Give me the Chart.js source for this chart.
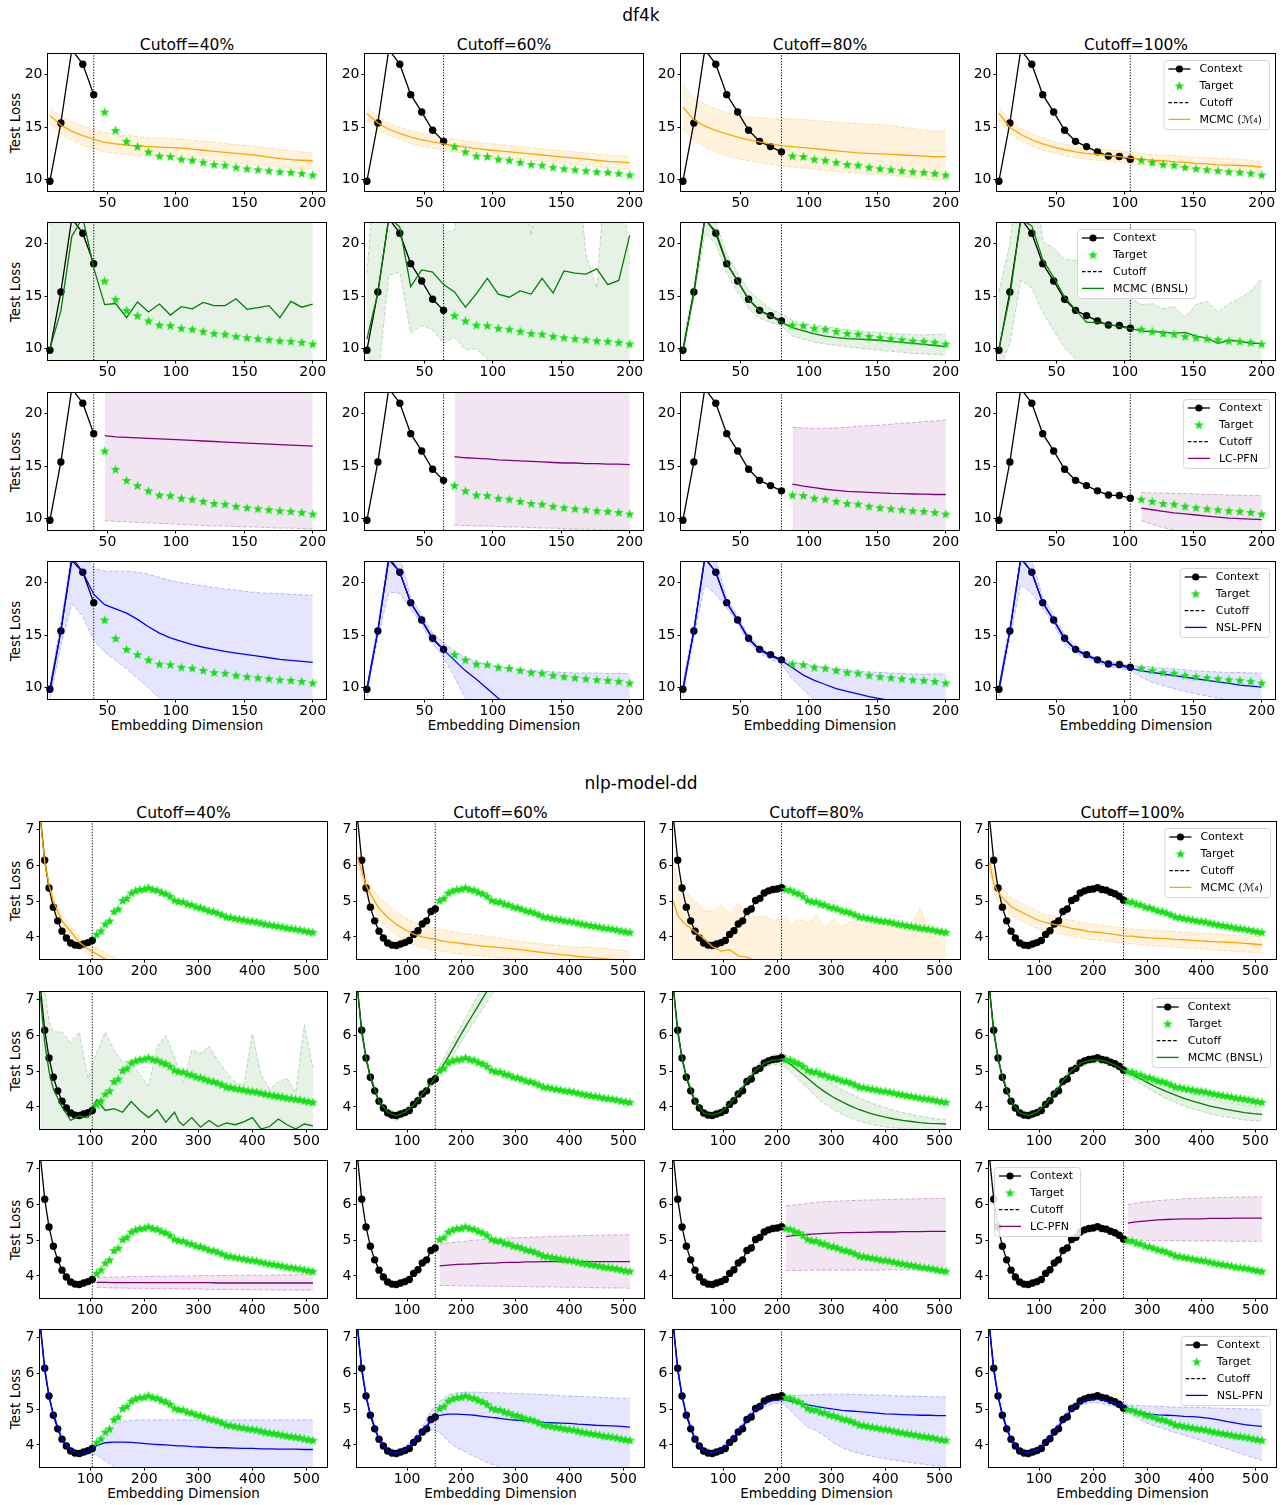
<!DOCTYPE html>
<html>
<head>
<meta charset="utf-8">
<script src="https://cdn.jsdelivr.net/npm/chart.js@4.4.1/dist/chart.umd.min.js"></script>
<style>
  body { margin: 0; background: #fff; }
  #fig { position: relative; width: 1283px; height: 1505px; font-family: "DejaVu Sans", sans-serif; }
  .txt { position: absolute; white-space: nowrap; color: #000; line-height: 1; }
  canvas { position: absolute; }
</style>
</head>
<body>
<div id="fig"></div>
<script>
// ---- data ----
const df4kX = [8, 16, 24, 32, 40, 48, 56, 64, 72, 80, 88, 96, 104, 112, 120, 128, 136, 144, 152, 160, 168, 176, 184, 192, 200];
const df4kLoss = [9.85, 15.4, 22.4, 21.0, 18.1, 16.45, 14.7, 13.65, 13.15, 12.65, 12.25, 12.2, 11.95, 11.85, 11.65, 11.45, 11.38, 11.18, 11.05, 10.95, 10.85, 10.75, 10.7, 10.6, 10.45];
const df4kCutoffs = [40, 64, 80, 104];
const df4kXTicks = [50, 100, 150, 200];
const df4kYTicks = [10, 15, 20];

const nlpX = [8, 16, 24, 32, 40, 48, 56, 64, 72, 80, 88, 96, 104, 112, 120, 128, 136, 144, 152, 160, 168, 176, 184, 192, 200, 208, 216, 224, 232, 240, 248, 256, 264, 272, 280, 288, 296, 304, 312, 320, 328, 336, 344, 352, 360, 368, 376, 384, 392, 400, 408, 416, 424, 432, 440, 448, 456, 464, 472, 480, 488, 496, 504, 512];
const nlpLoss = [7.35, 6.15, 5.37, 4.83, 4.45, 4.16, 3.97, 3.83, 3.77, 3.76, 3.8, 3.84, 3.9, 4.07, 4.17, 4.36, 4.45, 4.71, 4.78, 5.02, 5.08, 5.23, 5.29, 5.33, 5.34, 5.38, 5.33, 5.31, 5.25, 5.21, 5.14, 5.03, 4.99, 4.98, 4.92, 4.9, 4.84, 4.82, 4.78, 4.73, 4.71, 4.67, 4.62, 4.56, 4.55, 4.52, 4.5, 4.48, 4.45, 4.44, 4.42, 4.39, 4.36, 4.34, 4.32, 4.3, 4.28, 4.25, 4.24, 4.22, 4.2, 4.17, 4.15, 4.13];
const nlpCutoffs = [104, 152, 208, 256];
const nlpXTicks = [100, 200, 300, 400, 500];
const nlpYTicks = [4, 5, 6, 7];

const cutoffLabels = ['Cutoff=40%', 'Cutoff=60%', 'Cutoff=80%', 'Cutoff=100%'];
const methodNames = ['MCMC (\u2133\u2084)', 'MCMC (BNSL)', 'LC-PFN', 'NSL-PFN'];

// prediction grids
const df4kPredX = [8, 16, 24, 32, 40, 48, 56, 64, 72, 80, 88, 96, 104, 112, 120, 128, 136, 144, 152, 160, 168, 176, 184, 192, 200];
const nlpPredX = [8, 16, 24, 32, 48, 64, 80, 96, 112, 128, 144, 160, 176, 192, 208, 216, 224, 240, 256, 264, 272, 288, 304, 320, 336, 352, 368, 384, 400, 416, 432, 448, 464, 480, 496, 512];

// df4k, one row per cutoff (40, 60, 80, 100 %)
const df4kMcmcMean = [
  [16.1, 15.2, 14.6, 14.2, 13.85, 13.55, 13.4, 13.3, 13.2, 13.15, 13.1, 13.05, 13.0, 12.9, 12.8, 12.7, 12.6, 12.5, 12.4, 12.3, 12.15, 12.0, 11.9, 11.85, 11.8],
  [16.3, 15.4, 14.8, 14.4, 14.05, 13.8, 13.6, 13.4, 13.25, 13.1, 12.95, 12.85, 12.75, 12.65, 12.55, 12.45, 12.35, 12.25, 12.15, 12.05, 11.95, 11.85, 11.75, 11.7, 11.6],
  [16.9, 15.7, 15.1, 14.7, 14.35, 14.05, 13.8, 13.6, 13.4, 13.25, 13.15, 13.05, 12.95, 12.85, 12.75, 12.65, 12.55, 12.5, 12.45, 12.4, 12.35, 12.3, 12.25, 12.2, 12.2],
  [16.3, 15.0, 14.3, 13.8, 13.4, 13.1, 12.85, 12.65, 12.5, 12.4, 12.3, 12.2, 12.05, 11.95, 11.85, 11.8, 11.7, 11.65, 11.55, 11.5, 11.4, 11.38, 11.35, 11.3, 11.2]
];
const df4kMcmcHi = [
  [16.8, 16.0, 15.5, 15.1, 14.8, 14.5, 14.3, 14.2, 14.1, 14.0, 13.95, 13.9, 13.85, 13.75, 13.65, 13.55, 13.45, 13.35, 13.25, 13.15, 13.0, 12.85, 12.75, 12.65, 12.55],
  [16.9, 16.0, 15.4, 15.0, 14.65, 14.4, 14.2, 14.0, 13.85, 13.7, 13.55, 13.45, 13.35, 13.25, 13.15, 13.05, 12.95, 12.85, 12.75, 12.65, 12.55, 12.45, 12.35, 12.3, 12.2],
  [19.0, 17.8, 17.2, 16.7, 16.35, 16.15, 16.0, 15.9, 15.8, 15.8, 15.8, 15.75, 15.65, 15.55, 15.45, 15.4, 15.35, 15.3, 15.25, 15.15, 15.0, 14.85, 14.7, 14.6, 14.7],
  [16.9, 15.6, 14.9, 14.4, 14.0, 13.65, 13.4, 13.2, 13.05, 12.95, 12.85, 12.75, 12.6, 12.5, 12.4, 12.35, 12.3, 12.2, 12.1, 12.05, 12.0, 12.0, 11.95, 11.85, 11.7]
];
const df4kMcmcLo = [
  [15.3, 14.4, 13.7, 13.3, 12.95, 12.65, 12.5, 12.4, 12.3, 12.25, 12.2, 12.15, 12.1, 12.0, 11.9, 11.8, 11.7, 11.6, 11.5, 11.4, 11.3, 11.2, 11.1, 11.05, 11.0],
  [15.7, 14.8, 14.2, 13.8, 13.45, 13.2, 13.0, 12.8, 12.65, 12.5, 12.35, 12.25, 12.15, 12.05, 11.95, 11.85, 11.75, 11.65, 11.55, 11.45, 11.35, 11.25, 11.15, 11.1, 11.0],
  [14.8, 13.8, 13.1, 12.6, 12.3, 12.0, 11.8, 11.6, 11.45, 11.3, 11.2, 11.1, 11.0, 10.9, 10.8, 10.7, 10.6, 10.55, 10.5, 10.4, 10.3, 10.2, 10.05, 9.95, 10.0],
  [15.7, 14.4, 13.7, 13.2, 12.8, 12.55, 12.3, 12.1, 11.95, 11.85, 11.75, 11.65, 11.5, 11.4, 11.35, 11.3, 11.2, 11.1, 11.05, 11.0, 10.9, 10.85, 10.8, 10.8, 10.75]
];

const df4kBnslMean = [
  [10.0, 13.6, 20.7, 22.5, 17.7, 14.2, 14.3, 12.95, 14.45, 13.5, 14.25, 13.2, 14.0, 13.8, 14.4, 14.1, 14.1, 14.75, 13.75, 13.9, 14.1, 12.95, 14.5, 13.95, 14.25],
  [10.9, 15.3, 22.5, 21.6, 15.9, 17.5, 17.3, 16.1, 15.4, 13.95, 15.25, 16.7, 15.2, 14.9, 15.5, 15.2, 16.7, 15.3, 17.4, 17.2, 17.1, 17.6, 16.1, 16.5, 20.8],
  [9.8, 15.3, 22.3, 21.2, 18.2, 16.4, 14.7, 13.6, 13.1, 12.5, 12.0, 11.7, 11.4, 11.2, 11.05, 10.95, 10.9, 10.85, 10.8, 10.7, 10.6, 10.5, 10.4, 10.3, 10.2],
  [10.0, 15.0, 22.3, 21.7, 18.5, 16.8, 14.9, 13.7, 12.5, 12.5, 12.3, 12.1, 11.9, 11.7, 11.6, 11.6, 11.45, 11.55, 11.2, 11.0, 10.5, 10.8, 10.7, 10.5, 10.5]
];
const df4kBnslHi = [
  [21.7, 30, 30, 30, 30, 30, 30, 30, 30, 30, 30, 30, 30, 30, 30, 30, 30, 30, 30, 30, 30, 30, 30, 30, 30],
  [17.2, 30, 30, 30, 30, 30, 30, 21.0, 21.3, 30, 30, 30, 30, 30, 30, 20.8, 30, 30, 30, 30, 19.0, 15.8, 30, 30, 17.8],
  [10.5, 16.0, 22.8, 22.0, 19.0, 17.2, 15.6, 14.6, 13.8, 13.3, 12.7, 12.4, 12.3, 12.1, 11.95, 11.8, 11.7, 11.6, 11.55, 11.45, 11.4, 11.35, 11.3, 11.35, 11.4],
  [15.4, 20.0, 30, 30, 20.2, 19.6, 18.5, 18.4, 19.3, 17.2, 15.8, 15.0, 14.8, 14.2, 14.3, 13.8, 14.0, 13.0, 14.2, 14.5, 13.5, 14.3, 14.8, 15.5, 16.7]
];
const df4kBnslLo = [
  [5, 5, 5, 5, 5, 5, 5, 5, 5, 5, 5, 5, 5, 5, 5, 5, 5, 5, 5, 5, 5, 5, 5, 5, 5],
  [9.8, 7.0, 17.0, 17.3, 11.5, 12.2, 11.8, 10.5, 11.1, 9.9, 10.0, 9.0, 8.0, 8.0, 8.0, 8.0, 8.0, 9.0, 8.0, 8.0, 8.0, 8.0, 8.0, 8.0, 8.0],
  [9.3, 14.8, 21.0, 20.0, 17.2, 15.4, 13.8, 12.9, 12.5, 12.2, 11.2, 10.9, 10.6, 10.45, 10.3, 10.2, 10.05, 9.95, 9.85, 9.75, 9.65, 9.55, 9.5, 9.45, 9.35],
  [8.0, 10.5, 16.5, 15.8, 13.5, 11.7, 10.1, 9.0, 8.0, 7.0, 7.0, 7.0, 7.0, 7.0, 7.0, 7.0, 7.0, 7.0, 7.0, 7.0, 7.0, 7.0, 7.0, 7.0, 7.0]
];

const df4kLcMean = [
  [null, null, null, null, null, 17.9, 17.8, 17.75, 17.7, 17.65, 17.6, 17.55, 17.5, 17.45, 17.4, 17.35, 17.3, 17.25, 17.2, 17.15, 17.1, 17.05, 17.0, 16.95, 16.9],
  [null, null, null, null, null, null, null, null, 15.9, 15.8, 15.75, 15.7, 15.6, 15.55, 15.5, 15.45, 15.4, 15.35, 15.3, 15.3, 15.25, 15.25, 15.2, 15.2, 15.15],
  [null, null, null, null, null, null, null, null, null, null, 13.3, 13.1, 12.95, 12.8, 12.7, 12.6, 12.55, 12.5, 12.45, 12.4, 12.38, 12.35, 12.33, 12.3, 12.3],
  [null, null, null, null, null, null, null, null, null, null, null, null, null, 11.0, 10.85, 10.7, 10.55, 10.45, 10.35, 10.25, 10.15, 10.05, 10.0, 9.95, 9.9]
];
const df4kLcHi = [
  [null, null, null, null, null, 30, 30, 30, 30, 30, 30, 30, 30, 30, 30, 30, 30, 30, 30, 30, 30, 30, 30, 30, 30],
  [null, null, null, null, null, null, null, null, 30, 30, 30, 30, 30, 30, 30, 30, 30, 30, 30, 30, 30, 30, 30, 30, 30],
  [null, null, null, null, null, null, null, null, null, null, 18.7, 18.65, 18.6, 18.6, 18.65, 18.7, 18.8, 18.85, 18.9, 19.0, 19.1, 19.15, 19.25, 19.3, 19.4],
  [null, null, null, null, null, null, null, null, null, null, null, null, null, 12.5, 12.45, 12.45, 12.4, 12.4, 12.35, 12.3, 12.3, 12.25, 12.25, 12.2, 12.2]
];
const df4kLcLo = [
  [null, null, null, null, null, 9.8, 9.75, 9.7, 9.65, 9.6, 9.55, 9.5, 9.45, 9.4, 9.35, 9.3, 9.3, 9.25, 9.2, 9.2, 9.15, 9.1, 9.1, 9.05, 9.0],
  [null, null, null, null, null, null, null, null, 9.4, 9.35, 9.3, 9.3, 9.25, 9.2, 9.2, 9.15, 9.1, 9.1, 9.05, 9.0, 9.0, 8.95, 8.95, 8.9, 8.9],
  [null, null, null, null, null, null, null, null, null, null, 5, 5, 5, 5, 5, 5, 5, 5, 5, 5, 5, 5, 5, 5, 5],
  [null, null, null, null, null, null, null, null, null, null, null, null, null, 9.8, 9.45, 9.15, 8.9, 8.65, 8.45, 8.3, 8.15, 8.0, 7.9, 7.8, 7.7]
];

const df4kNslMean = [
  [9.6, 15.4, 22.1, 21.0, 18.9, 17.9, 17.5, 17.1, 16.5, 15.8, 15.2, 14.75, 14.4, 14.1, 13.85, 13.65, 13.45, 13.3, 13.15, 13.0, 12.85, 12.7, 12.6, 12.5, 12.4],
  [9.8, 15.4, 22.2, 21.0, 18.1, 16.4, 14.6, 13.6, 12.6, 11.6, 10.8, 9.9, 9.0, 8.2, null, null, null, null, null, null, null, null, null, null, null],
  [9.8, 15.4, 22.3, 21.0, 18.1, 16.4, 14.6, 13.6, 13.0, 12.6, 11.9, 11.2, 10.7, 10.3, 9.9, 9.65, 9.4, 9.15, 8.95, 8.75, 8.6, 8.45, 8.3, 8.15, 8.0],
  [9.8, 15.4, 22.3, 21.0, 18.1, 16.4, 14.6, 13.6, 13.05, 12.6, 12.25, 12.1, 11.85, 11.6, 11.45, 11.3, 11.15, 11.0, 10.85, 10.7, 10.55, 10.4, 10.25, 10.15, 10.05]
];
const df4kNslHi = [
  [10.3, 16.2, 23.0, 22.8, 21.4, 21.1, 21.1, 21.1, 21.0, 20.8, 20.5, 20.2, 20.0, 19.85, 19.7, 19.55, 19.4, 19.3, 19.15, 19.05, 19.0, 18.95, 18.9, 18.85, 18.8],
  [10.3, 16.0, 23.0, 22.5, 18.6, 16.9, 15.2, 14.3, 13.5, 12.9, 12.5, 12.2, 12.0, 11.85, 11.75, 11.65, 11.6, 11.5, 11.45, 11.4, 11.4, 11.4, 11.35, 11.35, 11.35],
  [10.5, 16.0, 22.8, 22.2, 18.6, 16.8, 15.0, 13.9, 13.2, 12.75, 12.45, 12.25, 12.1, 11.95, 11.8, 11.7, 11.6, 11.5, 11.45, 11.4, 11.35, 11.3, 11.3, 11.3, 11.3],
  [10.4, 16.0, 22.8, 22.2, 18.6, 16.9, 15.1, 14.0, 13.3, 12.85, 12.45, 12.3, 12.1, 12.05, 11.95, 11.85, 11.8, 11.7, 11.6, 11.55, 11.5, 11.45, 11.45, 11.4, 11.4]
];
const df4kNslLo = [
  [9.0, 14.0, 18.0, 16.8, 14.5, 13.4, 12.6, 11.8, 10.9, 10.0, 9.0, 8.0, 7.0, 6.0, 5.0, 5.0, 5.0, 5.0, 5.0, 5.0, 5.0, 5.0, 5.0, 5.0, 5.0],
  [9.2, 14.8, 19.1, 19.0, 17.5, 16.0, 14.2, 12.9, 11.0, 9.0, 7.0, 5.0, 5.0, 5.0, 5.0, 5.0, 5.0, 5.0, 5.0, 5.0, 5.0, 5.0, 5.0, 5.0, 5.0],
  [9.2, 14.8, 19.8, 18.9, 17.6, 16.1, 14.3, 13.3, 12.7, 12.3, 10.8, 9.8, 8.9, 8.0, 7.0, 5.0, 5.0, 5.0, 5.0, 5.0, 5.0, 5.0, 5.0, 5.0, 5.0],
  [9.2, 14.8, 19.8, 19.0, 17.6, 16.0, 14.2, 13.3, 12.8, 12.35, 12.0, 11.85, 11.6, 11.0, 10.5, 10.2, 9.9, 9.65, 9.4, 9.2, 9.0, 8.85, 8.7, 8.6, 8.5]
];

// nlp-model-dd, one row per cutoff
const nlpMcmcMean = [
  [7.3, 6.1, 5.45, 5.0, 4.45, 4.15, 3.85, 3.66, 3.52, 3.38, 3.26, 3.16, 3.08, 3.01, 2.95, 2.92, 2.9, 2.85, 2.8, 2.78, 2.76, 2.72, 2.68, 2.65, 2.62, 2.59, 2.56, 2.54, 2.52, 2.5, 2.48, 2.46, 2.44, 2.42, 2.4, 2.38],
  [6.25, 5.85, 5.45, 5.2, 4.8, 4.55, 4.35, 4.2, 4.08, 4.0, 3.95, 3.9, 3.86, 3.83, 3.8, 3.79, 3.77, 3.74, 3.72, 3.71, 3.7, 3.68, 3.65, 3.62, 3.59, 3.56, 3.53, 3.5, 3.48, 3.45, 3.43, 3.41, 3.39, 3.37, 3.35, 3.33],
  [5.0, 4.6, 4.45, 4.33, 4.15, 3.96, 3.73, 3.6, 3.64, 3.47, 3.43, 3.33, 3.22, 3.15, 3.08, 3.05, 3.02, 2.97, 2.92, 2.9, 2.88, 2.84, 2.8, 2.77, 2.74, 2.71, 2.68, 2.65, 2.63, 2.61, 2.59, 2.57, 2.55, 2.53, 2.51, 2.5],
  [6.1, 5.5, 5.25, 5.1, 4.85, 4.72, 4.6, 4.48, 4.4, 4.35, 4.3, 4.24, 4.2, 4.15, 4.13, 4.12, 4.1, 4.07, 4.03, 4.02, 4.02, 3.99, 3.97, 3.96, 3.95, 3.93, 3.92, 3.9, 3.89, 3.87, 3.86, 3.85, 3.84, 3.82, 3.8, 3.78]
];
const nlpMcmcHi = [
  [7.4, 6.2, 5.55, 5.1, 4.6, 4.3, 4.0, 3.82, 3.7, 3.55, 3.42, 3.32, 3.22, 3.15, 3.1, 3.07, 3.05, 3.0, 2.95, 2.93, 2.9, 2.87, 2.84, 2.8, 2.78, 2.75, 2.72, 2.7, 2.68, 2.66, 2.64, 2.62, 2.6, 2.58, 2.56, 2.54],
  [6.4, 6.05, 5.7, 5.45, 5.1, 4.9, 4.7, 4.55, 4.4, 4.32, 4.27, 4.22, 4.17, 4.12, 4.08, 4.07, 4.06, 4.03, 4.0, 3.99, 3.97, 3.92, 3.88, 3.85, 3.83, 3.8, 3.78, 3.75, 3.72, 3.7, 3.72, 3.68, 3.7, 3.65, 3.62, 3.6],
  [6.1, 5.6, 5.3, 5.25, 5.0, 4.75, 4.72, 4.9, 4.65, 4.95, 4.6, 4.55, 4.6, 4.45, 4.5, 4.6, 4.3, 4.5, 4.4, 4.45, 4.6, 4.25, 4.5, 4.3, 4.45, 4.35, 4.3, 4.4, 4.35, 4.3, 4.25, 4.3, 4.8, 4.2, 4.2, 4.25],
  [6.3, 5.75, 5.5, 5.36, 5.1, 4.97, 4.85, 4.72, 4.63, 4.57, 4.52, 4.46, 4.42, 4.37, 4.34, 4.33, 4.31, 4.28, 4.24, 4.23, 4.22, 4.2, 4.19, 4.18, 4.16, 4.15, 4.13, 4.12, 4.1, 4.09, 4.08, 4.06, 4.05, 4.04, 4.02, 4.0]
];
const nlpMcmcLo = [
  [7.2, 6.0, 5.35, 4.9, 4.32, 4.02, 3.72, 3.52, 3.36, 3.22, 3.1, 3.0, 2.94, 2.87, 2.8, 2.77, 2.75, 2.7, 2.65, 2.63, 2.61, 2.57, 2.53, 2.5, 2.47, 2.44, 2.41, 2.39, 2.37, 2.35, 2.33, 2.31, 2.29, 2.27, 2.25, 2.23],
  [6.1, 5.65, 5.2, 4.95, 4.5, 4.25, 4.05, 3.9, 3.78, 3.7, 3.65, 3.6, 3.57, 3.53, 3.5, 3.49, 3.48, 3.45, 3.43, 3.42, 3.41, 3.39, 3.37, 3.35, 3.33, 3.31, 3.29, 3.27, 3.25, 3.23, 3.21, 3.19, 3.17, 3.15, 3.13, 3.11],
  [2, 2, 2, 2, 2, 2, 2, 2, 2, 2, 2, 2, 2, 2, 2, 2, 2, 2, 2, 2, 2, 2, 2, 2, 2, 2, 2, 2, 2, 2, 2, 2, 2, 2, 2, 2],
  [5.9, 5.25, 5.0, 4.85, 4.6, 4.47, 4.35, 4.24, 4.17, 4.12, 4.07, 4.02, 3.98, 3.93, 3.91, 3.9, 3.88, 3.85, 3.82, 3.81, 3.81, 3.78, 3.76, 3.75, 3.73, 3.71, 3.69, 3.67, 3.66, 3.64, 3.62, 3.61, 3.59, 3.58, 3.56, 3.55]
];

const nlpBnslMean = [
  [7.1, 5.8, 5.0, 4.5, 4.0, 3.62, 3.75, 3.7, 4.2, 3.9, 3.95, 3.85, 4.15, 3.9, 3.7, 3.8, 3.92, 3.57, 3.85, 3.6, 3.48, 3.7, 3.43, 3.62, 3.45, 3.55, 3.5, 3.58, 3.7, 3.38, 3.45, 3.66, 3.5, 3.38, 3.52, 3.47],
  [7.3, 6.1, 5.37, 4.85, 4.15, 3.85, 3.75, 3.85, 4.05, 4.35, 4.65, 5.0, 5.4, 5.83, 6.25, 6.45, 6.65, 7.05, 7.45, 7.65, 7.85, null, null, null, null, null, null, null, null, null, null, null, null, null, null, null],
  [7.3, 6.1, 5.37, 4.85, 4.15, 3.83, 3.77, 3.85, 4.08, 4.38, 4.72, 5.02, 5.22, 5.31, 5.33, 5.27, 5.2, 5.0, 4.8, 4.7, 4.6, 4.42, 4.27, 4.14, 4.02, 3.92, 3.84, 3.77, 3.71, 3.66, 3.62, 3.59, 3.56, 3.54, 3.53, 3.52],
  [7.3, 6.1, 5.37, 4.85, 4.15, 3.83, 3.76, 3.85, 4.08, 4.38, 4.72, 5.02, 5.22, 5.3, 5.32, 5.3, 5.27, 5.18, 5.03, 4.96, 4.9, 4.78, 4.65, 4.53, 4.43, 4.33, 4.24, 4.16, 4.09, 4.02, 3.97, 3.92, 3.88, 3.84, 3.81, 3.79]
];
const nlpBnslHi = [
  [7.3, 7.25, 6.4, 6.1, 6.1, 5.8, 6.1, 4.8, 5.5, 6.1, 5.6, 5.25, 5.3, 4.9, 4.6, 5.1, 5.7, 6.0, 5.4, 5.0, 4.65, 5.6, 5.5, 5.7, 5.3, 4.97, 4.7, 4.6, 6.05, 4.9, 4.5, 4.7, 4.8, 4.4, 6.3, 5.1],
  [7.4, 6.22, 5.45, 4.93, 4.23, 3.93, 3.85, 3.95, 4.15, 4.45, 4.78, 5.15, 5.6, 6.05, 6.5, 6.72, 6.94, 7.37, 7.8, 8.02, 8.25, null, null, null, null, null, null, null, null, null, null, null, null, null, null, null],
  [7.38, 6.2, 5.45, 4.93, 4.23, 3.92, 3.86, 3.94, 4.17, 4.47, 4.81, 5.12, 5.33, 5.45, 5.5, 5.46, 5.42, 5.28, 5.1, 5.02, 4.93, 4.77, 4.62, 4.48, 4.36, 4.25, 4.15, 4.06, 3.98, 3.9, 3.84, 3.79, 3.74, 3.7, 3.66, 3.64],
  [7.38, 6.2, 5.45, 4.93, 4.23, 3.92, 3.85, 3.94, 4.17, 4.47, 4.81, 5.11, 5.31, 5.39, 5.41, 5.39, 5.36, 5.27, 5.12, 5.03, 5.0, 4.9, 4.8, 4.7, 4.61, 4.52, 4.45, 4.38, 4.3, 4.24, 4.18, 4.13, 4.09, 4.05, 4.02, 4.0]
];
const nlpBnslLo = [
  [2, 2, 2, 2, 2, 2, 2, 2, 2, 2, 2, 2, 2, 2, 2, 2, 2, 2, 2, 2, 2, 2, 2, 2, 2, 2, 2, 2, 2, 2, 2, 2, 2, 2, 2, 2],
  [7.2, 6.0, 5.29, 4.77, 4.07, 3.72, 3.62, 3.74, 3.96, 4.26, 4.55, 4.87, 5.22, 5.62, 6.02, 6.2, 6.38, 6.75, 7.12, 7.3, 7.48, null, null, null, null, null, null, null, null, null, null, null, null, null, null, null],
  [7.22, 6.0, 5.29, 4.77, 4.07, 3.74, 3.68, 3.76, 3.99, 4.29, 4.63, 4.92, 5.11, 5.18, 5.18, 5.1, 5.0, 4.76, 4.52, 4.4, 4.28, 4.08, 3.93, 3.8, 3.69, 3.6, 3.53, 3.48, 3.44, 3.41, 3.39, 3.38, 3.37, 3.36, 3.36, 3.36],
  [7.22, 6.0, 5.29, 4.77, 4.07, 3.74, 3.67, 3.76, 3.99, 4.29, 4.63, 4.93, 5.13, 5.21, 5.23, 5.21, 5.18, 5.09, 4.94, 4.88, 4.8, 4.65, 4.5, 4.35, 4.23, 4.12, 4.02, 3.94, 3.88, 3.8, 3.75, 3.71, 3.67, 3.63, 3.61, 3.6]
];

const nlpLcMean = [
  [null, null, null, null, null, null, null, null, 3.82, 3.82, 3.81, 3.81, 3.81, 3.81, 3.81, 3.81, 3.81, 3.81, 3.81, 3.81, 3.81, 3.81, 3.81, 3.81, 3.8, 3.8, 3.8, 3.8, 3.8, 3.8, 3.8, 3.8, 3.8, 3.8, 3.8, 3.8],
  [null, null, null, null, null, null, null, null, null, null, null, 4.28, 4.3, 4.32, 4.33, 4.33, 4.34, 4.35, 4.36, 4.36, 4.37, 4.38, 4.38, 4.39, 4.39, 4.4, 4.4, 4.4, 4.4, 4.4, 4.4, 4.4, 4.4, 4.4, 4.4, 4.4],
  [null, null, null, null, null, null, null, null, null, null, null, null, null, null, null, 5.1, 5.12, 5.14, 5.16, 5.17, 5.18, 5.19, 5.2, 5.21, 5.21, 5.22, 5.22, 5.23, 5.23, 5.23, 5.24, 5.24, 5.24, 5.25, 5.25, 5.25],
  [null, null, null, null, null, null, null, null, null, null, null, null, null, null, null, null, null, null, null, 5.48, 5.5, 5.53, 5.55, 5.57, 5.58, 5.59, 5.6, 5.6, 5.6, 5.61, 5.61, 5.61, 5.62, 5.62, 5.62, 5.62]
];
const nlpLcHi = [
  [null, null, null, null, null, null, null, null, 3.95, 3.96, 3.97, 3.97, 3.98, 3.98, 3.98, 3.99, 3.99, 3.99, 4.0, 4.0, 4.0, 4.0, 4.01, 4.01, 4.01, 4.01, 4.02, 4.02, 4.02, 4.02, 4.02, 4.03, 4.03, 4.03, 4.03, 4.04],
  [null, null, null, null, null, null, null, null, null, null, null, 4.88, 4.92, 4.95, 4.97, 4.99, 5.0, 5.02, 5.03, 5.04, 5.05, 5.06, 5.07, 5.08, 5.09, 5.1, 5.11, 5.11, 5.12, 5.13, 5.13, 5.14, 5.14, 5.15, 5.15, 5.15],
  [null, null, null, null, null, null, null, null, null, null, null, null, null, null, null, 5.96, 5.98, 6.0, 6.03, 6.05, 6.06, 6.08, 6.09, 6.1, 6.11, 6.12, 6.13, 6.13, 6.14, 6.15, 6.15, 6.16, 6.16, 6.17, 6.17, 6.17],
  [null, null, null, null, null, null, null, null, null, null, null, null, null, null, null, null, null, null, null, 6.0, 6.02, 6.06, 6.09, 6.11, 6.13, 6.14, 6.16, 6.17, 6.18, 6.19, 6.2, 6.2, 6.21, 6.21, 6.22, 6.22]
];
const nlpLcLo = [
  [null, null, null, null, null, null, null, null, 3.68, 3.67, 3.66, 3.66, 3.65, 3.65, 3.65, 3.64, 3.64, 3.64, 3.64, 3.63, 3.63, 3.63, 3.63, 3.62, 3.62, 3.62, 3.62, 3.61, 3.61, 3.61, 3.61, 3.6, 3.6, 3.6, 3.6, 3.6],
  [null, null, null, null, null, null, null, null, null, null, null, 3.73, 3.73, 3.72, 3.72, 3.72, 3.72, 3.71, 3.71, 3.71, 3.71, 3.7, 3.7, 3.7, 3.69, 3.69, 3.69, 3.68, 3.68, 3.68, 3.67, 3.67, 3.66, 3.66, 3.66, 3.65],
  [null, null, null, null, null, null, null, null, null, null, null, null, null, null, null, 4.15, 4.15, 4.15, 4.16, 4.16, 4.16, 4.16, 4.16, 4.16, 4.16, 4.16, 4.16, 4.16, 4.17, 4.17, 4.17, 4.17, 4.17, 4.17, 4.17, 4.17],
  [null, null, null, null, null, null, null, null, null, null, null, null, null, null, null, null, null, null, null, 5.0, 5.0, 5.0, 4.99, 4.99, 4.99, 4.99, 4.98, 4.98, 4.98, 4.98, 4.98, 4.97, 4.97, 4.97, 4.97, 4.97]
];

const nlpNslMean = [
  [7.3, 6.1, 5.35, 4.85, 4.15, 3.85, 3.75, 3.82, 3.98, 4.06, 4.08, 4.08, 4.07, 4.05, 4.03, 4.02, 4.01, 4.0, 3.98, 3.97, 3.97, 3.95, 3.94, 3.93, 3.92, 3.92, 3.91, 3.9, 3.9, 3.89, 3.89, 3.88, 3.88, 3.88, 3.87, 3.87],
  [7.3, 6.1, 5.37, 4.85, 4.15, 3.83, 3.76, 3.85, 4.08, 4.38, 4.7, 4.83, 4.86, 4.86, 4.85, 4.84, 4.83, 4.8, 4.77, 4.76, 4.74, 4.71, 4.69, 4.67, 4.65, 4.63, 4.62, 4.61, 4.6, 4.58, 4.57, 4.55, 4.54, 4.53, 4.52, 4.5],
  [7.3, 6.1, 5.37, 4.85, 4.15, 3.83, 3.77, 3.85, 4.07, 4.37, 4.7, 4.98, 5.17, 5.25, 5.27, 5.26, 5.23, 5.17, 5.12, 5.1, 5.08, 5.04, 5.0, 4.97, 4.95, 4.93, 4.91, 4.89, 4.87, 4.86, 4.85, 4.84, 4.83, 4.83, 4.82, 4.82],
  [7.3, 6.1, 5.37, 4.85, 4.15, 3.83, 3.77, 3.85, 4.07, 4.37, 4.7, 5.0, 5.2, 5.28, 5.28, 5.26, 5.23, 5.17, 5.1, 5.03, 4.98, 4.9, 4.86, 4.84, 4.83, 4.82, 4.8, 4.79, 4.77, 4.74, 4.7, 4.65, 4.61, 4.57, 4.54, 4.52]
];
const nlpNslHi = [
  [7.38, 6.2, 5.43, 4.93, 4.23, 3.93, 3.83, 3.9, 4.08, 4.35, 4.58, 4.66, 4.69, 4.7, 4.7, 4.7, 4.7, 4.7, 4.7, 4.7, 4.7, 4.7, 4.7, 4.7, 4.7, 4.7, 4.7, 4.7, 4.7, 4.7, 4.7, 4.7, 4.7, 4.7, 4.7, 4.7],
  [7.38, 6.2, 5.45, 4.93, 4.23, 3.92, 3.85, 3.95, 4.18, 4.5, 4.95, 5.22, 5.4, 5.46, 5.48, 5.48, 5.48, 5.47, 5.46, 5.46, 5.46, 5.45, 5.44, 5.43, 5.42, 5.41, 5.4, 5.38, 5.37, 5.36, 5.35, 5.34, 5.33, 5.32, 5.31, 5.3],
  [7.38, 6.2, 5.45, 4.93, 4.23, 3.92, 3.85, 3.94, 4.16, 4.46, 4.8, 5.08, 5.28, 5.35, 5.36, 5.37, 5.38, 5.39, 5.4, 5.41, 5.41, 5.42, 5.42, 5.42, 5.42, 5.41, 5.4, 5.4, 5.39, 5.38, 5.37, 5.37, 5.36, 5.35, 5.35, 5.34],
  [7.38, 6.2, 5.45, 4.93, 4.23, 3.92, 3.85, 3.94, 4.16, 4.46, 4.8, 5.1, 5.3, 5.38, 5.38, 5.36, 5.33, 5.26, 5.17, 5.13, 5.11, 5.1, 5.09, 5.08, 5.07, 5.06, 5.06, 5.05, 5.05, 5.04, 5.03, 5.02, 5.02, 5.01, 5.0, 5.0]
];
const nlpNslLo = [
  [7.22, 6.0, 5.27, 4.77, 4.07, 3.77, 3.68, 3.74, 3.72, 3.55, 3.38, 3.2, 2, 2, 2, 2, 2, 2, 2, 2, 2, 2, 2, 2, 2, 2, 2, 2, 2, 2, 2, 2, 2, 2, 2, 2],
  [7.22, 6.0, 5.29, 4.77, 4.07, 3.74, 3.67, 3.75, 3.98, 4.22, 4.42, 4.35, 4.1, 3.92, 3.8, 3.74, 3.68, 3.56, 3.46, 3.42, 3.37, 3.3, 2, 2, 2, 2, 2, 2, 2, 2, 2, 2, 2, 2, 2, 2],
  [7.22, 6.0, 5.29, 4.77, 4.07, 3.74, 3.69, 3.76, 3.98, 4.28, 4.6, 4.88, 5.06, 5.15, 5.18, 5.08, 4.98, 4.72, 4.5, 4.45, 4.4, 4.25, 4.05, 3.93, 3.83, 3.76, 3.7, 3.65, 3.61, 3.57, 3.54, 3.5, 3.47, 3.44, 3.41, 3.38],
  [7.22, 6.0, 5.29, 4.77, 4.07, 3.74, 3.69, 3.76, 3.98, 4.28, 4.6, 4.9, 5.1, 5.18, 5.18, 5.16, 5.13, 5.07, 4.98, 4.92, 4.85, 4.7, 4.58, 4.5, 4.42, 4.35, 4.27, 4.2, 4.12, 4.04, 3.96, 3.88, 3.8, 3.72, 3.64, 3.56]
];

// ---- styling ----
const FONT = "'DejaVu Sans', sans-serif";
const methodColors = ['#ffa500', '#008000', '#800080', '#0000ff'];
const methodFills = ['rgba(255,165,0,0.13)', 'rgba(0,128,0,0.1)', 'rgba(128,0,128,0.1)', 'rgba(0,0,255,0.1)'];
const methodEdges = ['rgba(255,165,0,0.32)', 'rgba(0,128,0,0.25)', 'rgba(128,0,128,0.3)', 'rgba(0,0,255,0.25)'];
const starColor = '#10e010';

const fig = document.getElementById('fig');

function addText(str, x, y, size, rotate) {
  const d = document.createElement('div');
  d.className = 'txt';
  d.textContent = str;
  d.style.left = x + 'px';
  d.style.top = y + 'px';
  d.style.fontSize = size + 'px';
  d.style.transform = 'translate(-50%,-50%)' + (rotate ? ' rotate(-90deg)' : '');
  fig.appendChild(d);
}

// filled 5-point star like matplotlib's '*'
function starImage(size, color) {
  const c = document.createElement('canvas');
  c.width = size; c.height = size;
  const g = c.getContext('2d');
  const cx = size / 2, cy = size / 2 + 0.4, ro = size / 2 - 0.3, ri = ro * 0.4;
  g.beginPath();
  for (let k = 0; k < 10; k++) {
    const r = k % 2 === 0 ? ro : ri;
    const a = -Math.PI / 2 + k * Math.PI / 5;
    g.lineTo(cx + r * Math.cos(a), cy + r * Math.sin(a));
  }
  g.closePath();
  g.fillStyle = color;
  g.fill();
  return c;
}
const starImg = starImage(11, starColor);

// frame around the axes
const framePlugin = {
  id: 'frame',
  afterDatasetsDraw(chart) {
    const a = chart.chartArea, ctx = chart.ctx;
    ctx.save();
    ctx.strokeStyle = '#000';
    ctx.lineWidth = 1;
    ctx.strokeRect(Math.round(a.left) - 0.5, Math.round(a.top) - 0.5, Math.round(a.right - a.left) + 1, Math.round(a.bottom - a.top) + 1);
    ctx.restore();
  }
};

// legend box drawn inside the axes, like matplotlib
const legendPlugin = {
  id: 'boxLegend',
  afterDraw(chart, args, opts) {
    const ctx = chart.ctx, a = chart.chartArea;
    const labels = ['Context', 'Target', 'Cutoff', opts.label];
    ctx.save();
    ctx.font = '11px ' + FONT;
    const tw = Math.max(...labels.map(s => ctx.measureText(s).width));
    const bw = 36 + tw + 7, bh = 69;
    const bx = opts.left != null ? a.left + opts.left : a.right - 6 - bw;
    const by = a.top + 6;
    ctx.beginPath();
    ctx.roundRect(bx + 0.5, by + 0.5, bw, bh, 3);
    ctx.fillStyle = 'rgba(255,255,255,0.85)';
    ctx.fill();
    ctx.strokeStyle = '#d5d5d5';
    ctx.lineWidth = 1;
    ctx.stroke();
    const x0 = bx + 5, x1 = bx + 27, xm = bx + 16;
    labels.forEach((lab, k) => {
      const y = by + 9 + k * 16.8;
      ctx.setLineDash([]);
      if (k === 0) {
        ctx.strokeStyle = '#000'; ctx.lineWidth = 1.3;
        ctx.beginPath(); ctx.moveTo(x0, y); ctx.lineTo(x1, y); ctx.stroke();
        ctx.fillStyle = '#000';
        ctx.beginPath(); ctx.arc(xm, y, 3.6, 0, Math.PI * 2); ctx.fill();
      } else if (k === 1) {
        ctx.drawImage(starImg, xm - starImg.width / 2, y - starImg.height / 2);
      } else if (k === 2) {
        ctx.strokeStyle = '#000'; ctx.lineWidth = 1.2; ctx.setLineDash([3.5, 2]);
        ctx.beginPath(); ctx.moveTo(x0, y); ctx.lineTo(x1, y); ctx.stroke();
      } else {
        ctx.strokeStyle = opts.color; ctx.lineWidth = 1.3;
        ctx.beginPath(); ctx.moveTo(x0, y); ctx.lineTo(x1, y); ctx.stroke();
      }
      ctx.setLineDash([]);
      ctx.fillStyle = '#000';
      ctx.textBaseline = 'middle';
      ctx.textAlign = 'left';
      ctx.fillText(lab, bx + 36, y + 0.5);
    });
    ctx.restore();
  }
};

function makePanel(p) {
  const padL = 46, padT = 12, padR = 18, padB = 26;
  const cv = document.createElement('canvas');
  cv.width = p.w + padL + padR;
  cv.height = p.h + padT + padB;
  cv.style.left = (p.left - padL) + 'px';
  cv.style.top = (p.top - padT) + 'px';
  fig.appendChild(cv);

  const context = [], target = [];
  p.xs.forEach((x, i) => (x <= p.cutoff ? context : target).push({ x: x, y: p.loss[i] }));
  const pts = arr => p.px.map((x, i) => ({ x: x, y: arr[i] }));
  const markerClip = { left: 5, right: 5, top: 0, bottom: 0 };

  const datasets = [
    { data: target, showLine: false, pointStyle: starImg, pointRadius: 5, clip: markerClip },
    { data: pts(p.mean), borderColor: p.color, borderWidth: 1.3, pointRadius: 0 },
    { data: context, borderColor: '#000', borderWidth: 1.3, pointRadius: 3.7, pointBackgroundColor: '#000', pointBorderWidth: 0, clip: markerClip },
    { data: [{ x: p.cutoff, y: p.yMin }, { x: p.cutoff, y: p.yMax }], borderColor: '#000', borderWidth: 1, borderDash: [1.2, 1.6], pointRadius: 0 },
    { data: pts(p.hi), borderColor: p.edge, borderWidth: 1, borderDash: [4, 2], pointRadius: 0, fill: '+1', backgroundColor: p.fill },
    { data: pts(p.lo), borderColor: p.edge, borderWidth: 1, borderDash: [4, 2], pointRadius: 0, fill: false }
  ];

  const axis = (min, max, ticks, isX) => ({
    type: 'linear',
    min: min,
    max: max,
    afterBuildTicks: s => { s.ticks = ticks.map(v => ({ value: v })); },
    afterFit: s => { if (isX) s.height = padB; else s.width = padL; },
    grid: { drawOnChartArea: false, drawTicks: true, tickLength: 3.5, color: '#000' },
    border: { display: false },
    ticks: { color: '#000', font: { family: FONT, size: 14, lineHeight: 1 }, padding: 2, maxRotation: 0, autoSkip: false }
  });

  const plugins = [framePlugin];
  if (p.legend) plugins.push(legendPlugin);

  new Chart(cv, {
    type: 'line',
    data: { datasets: datasets },
    options: {
      responsive: false,
      animation: false,
      events: [],
      spanGaps: false,
      layout: { padding: { left: 0, top: padT, right: padR, bottom: 0 } },
      elements: { line: { tension: 0 } },
      scales: {
        x: axis(p.xMin, p.xMax, p.xTicks, true),
        y: axis(p.yMin, p.yMax, p.yTicks, false)
      },
      plugins: {
        legend: { display: false },
        tooltip: { enabled: false },
        boxLegend: p.legend || false
      }
    },
    plugins: plugins
  });
}

// ---- layout of the two panel grids ----
const groups = [
  {
    title: 'df4k', titleY: 15, colTitleY: 46, xLabelY: 726,
    lefts: [48, 365, 681, 997], w: 278, tops: [54, 223, 393, 562], h: 137,
    xMin: 6.6, xMax: 209.7, yMin: 8.92, yMax: 21.97,
    xs: df4kX, loss: df4kLoss, cutoffs: df4kCutoffs, xTicks: df4kXTicks, yTicks: df4kYTicks, px: df4kPredX,
    mean: [df4kMcmcMean, df4kBnslMean, df4kLcMean, df4kNslMean],
    hi: [df4kMcmcHi, df4kBnslHi, df4kLcHi, df4kNslHi],
    lo: [df4kMcmcLo, df4kBnslLo, df4kLcLo, df4kNslLo],
    legendLeft: [null, 80, null, null]
  },
  {
    title: 'nlp-model-dd', titleY: 783, colTitleY: 814, xLabelY: 1494,
    lefts: [40, 357, 673, 989], w: 287, tops: [822, 992, 1161, 1330], h: 137,
    xMin: 7.3, xMax: 538, yMin: 3.38, yMax: 7.22,
    xs: nlpX, loss: nlpLoss, cutoffs: nlpCutoffs, xTicks: nlpXTicks, yTicks: nlpYTicks, px: nlpPredX,
    mean: [nlpMcmcMean, nlpBnslMean, nlpLcMean, nlpNslMean],
    hi: [nlpMcmcHi, nlpBnslHi, nlpLcHi, nlpNslHi],
    lo: [nlpMcmcLo, nlpBnslLo, nlpLcLo, nlpNslLo],
    legendLeft: [null, null, 5, null]
  }
];

groups.forEach(g => {
  addText(g.title, 641, g.titleY, 17);
  for (let c = 0; c < 4; c++) {
    const cx = g.lefts[c] + g.w / 2;
    addText(cutoffLabels[c], cx, g.colTitleY, 15.5);
    addText('Embedding Dimension', cx, g.xLabelY, 13.5);
  }
  for (let r = 0; r < 4; r++) {
    addText('Test Loss', 16, g.tops[r] + g.h / 2, 13.5, true);
    for (let c = 0; c < 4; c++) {
      makePanel({
        left: g.lefts[c], top: g.tops[r], w: g.w, h: g.h,
        xMin: g.xMin, xMax: g.xMax, yMin: g.yMin, yMax: g.yMax,
        xTicks: g.xTicks, yTicks: g.yTicks,
        xs: g.xs, loss: g.loss, cutoff: g.cutoffs[c], px: g.px,
        mean: g.mean[r][c], hi: g.hi[r][c], lo: g.lo[r][c],
        color: methodColors[r], fill: methodFills[r], edge: methodEdges[r],
        legend: c === 3 ? { label: methodNames[r], color: methodColors[r], left: g.legendLeft[r] } : null
      });
    }
  }
});
</script>
</body>
</html>
